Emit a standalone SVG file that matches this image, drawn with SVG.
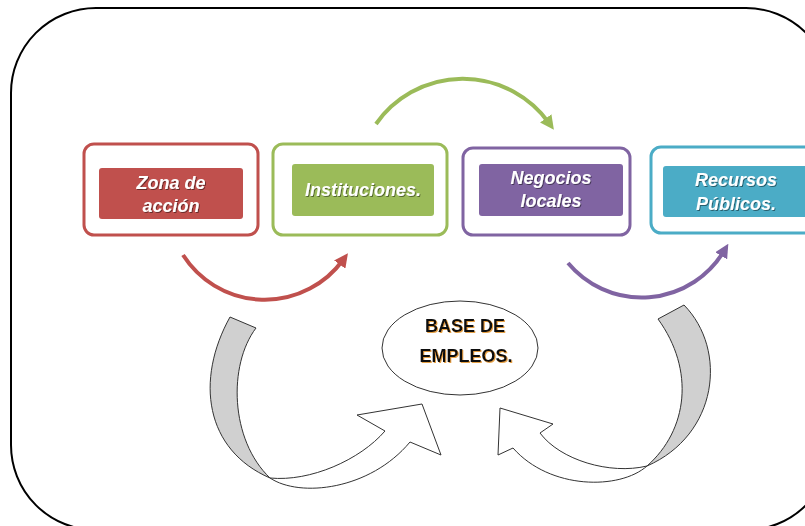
<svg xmlns="http://www.w3.org/2000/svg" width="805" height="526" viewBox="0 0 805 526">
<style>
.frame{fill:none;stroke:#000;stroke-width:2}
.outer{fill:#fff;stroke-width:3}
.lbl{font-family:"Liberation Sans",Arial,sans-serif;font-weight:bold;font-style:italic;font-size:18px;fill:#fff;text-anchor:middle}
.base{font-family:"Liberation Sans",Arial,sans-serif;font-weight:bold;font-size:18px;fill:#111;text-anchor:middle}
.arc{fill:none;stroke-width:4}
.band{fill:#d0d0d0;stroke:#333;stroke-width:1}
.head{fill:#fff;stroke:#333;stroke-width:1}
</style>
<defs>
<filter id="sh" x="-10%" y="-20%" width="130%" height="150%">
<feDropShadow dx="1" dy="1" stdDeviation="0.6" flood-color="#000" flood-opacity="0.45"/>
</filter>
<filter id="glow" x="-10%" y="-20%" width="130%" height="150%">
<feDropShadow dx="1" dy="1" stdDeviation="0.5" flood-color="#e08a1e" flood-opacity="0.8"/>
</filter>
<marker id="mRed" markerUnits="userSpaceOnUse" markerWidth="14" markerHeight="14" refX="4" refY="5" orient="auto" viewBox="0 0 10 10">
<path d="M0,0 L10,5 L0,10 z" fill="#c0504d"/>
</marker>
<marker id="mGreen" markerUnits="userSpaceOnUse" markerWidth="14" markerHeight="14" refX="4" refY="5" orient="auto" viewBox="0 0 10 10">
<path d="M0,0 L10,5 L0,10 z" fill="#9bbb59"/>
</marker>
<marker id="mPurple" markerUnits="userSpaceOnUse" markerWidth="14" markerHeight="14" refX="4" refY="5" orient="auto" viewBox="0 0 10 10">
<path d="M0,0 L10,5 L0,10 z" fill="#8064a2"/>
</marker>
</defs>

<rect class="frame" x="11" y="8" width="820" height="522" rx="85" ry="85"/>

<g id="connectors">
<path class="arc" stroke="#c0504d" d="M183,255 A97,97 0 0 0 343,260" marker-end="url(#mRed)"/>
<path class="arc" stroke="#9bbb59" d="M376,124 A106,106 0 0 1 549,123" marker-end="url(#mGreen)"/>
<path class="arc" stroke="#8064a2" d="M568,263 A96,96 0 0 0 724,251" marker-end="url(#mPurple)"/>
<g id="arrow-left">
<path class="band" d="M230,317 L256,328 C228,365 230,440 270,478 C205,450 195,380 230,317 Z"/>
<path class="head" d="M270,478 C300,498 370,490 410,442 L441,455 L422,404 L357,415 L385,431 C360,460 310,482 270,478 Z"/>
</g>
<g id="arrow-right">
<path class="band" d="M684,305 L658,319 C695,370 688,430 647,466 C718,435 728,350 684,305 Z"/>
<path class="head" d="M647,466 C620,490 550,490 513,448 L498,455 L500,408 L553,424 L540,433 C560,460 610,475 647,466 Z"/>
</g>
</g>

<g id="zona">
<rect class="outer" x="84" y="144" width="174" height="91" rx="10" stroke="#c0504d"/>
<rect x="99" y="168" width="144" height="51" rx="3" fill="#c0504d"/>
<text class="lbl" filter="url(#sh)" x="171" y="189">Zona de</text>
<text class="lbl" filter="url(#sh)" x="171" y="212">acción</text>
</g>

<g id="instituciones">
<rect class="outer" x="273" y="144" width="174" height="91" rx="10" stroke="#9bbb59"/>
<rect x="292" y="164" width="142" height="52" rx="3" fill="#9bbb59"/>
<text class="lbl" filter="url(#sh)" x="363" y="196">Instituciones.</text>
</g>

<g id="negocios">
<rect class="outer" x="463" y="148" width="167" height="87" rx="10" stroke="#8064a2"/>
<rect x="479" y="164" width="144" height="52" rx="3" fill="#8064a2"/>
<text class="lbl" filter="url(#sh)" x="551" y="184">Negocios</text>
<text class="lbl" filter="url(#sh)" x="551" y="207">locales</text>
</g>

<g id="recursos">
<rect class="outer" x="651" y="147" width="170" height="86" rx="10" stroke="#4bacc6"/>
<rect x="663" y="166" width="150" height="51" rx="3" fill="#4bacc6"/>
<text class="lbl" filter="url(#sh)" x="736" y="186">Recursos</text>
<text class="lbl" filter="url(#sh)" x="736" y="210">Públicos.</text>
</g>

<g id="base">
<ellipse cx="460" cy="348" rx="78" ry="47" fill="#fff" stroke="#333" stroke-width="1"/>
<text class="base" filter="url(#glow)" x="465" y="332">BASE DE</text>
<text class="base" filter="url(#glow)" x="466" y="362">EMPLEOS.</text>
</g>
</svg>
